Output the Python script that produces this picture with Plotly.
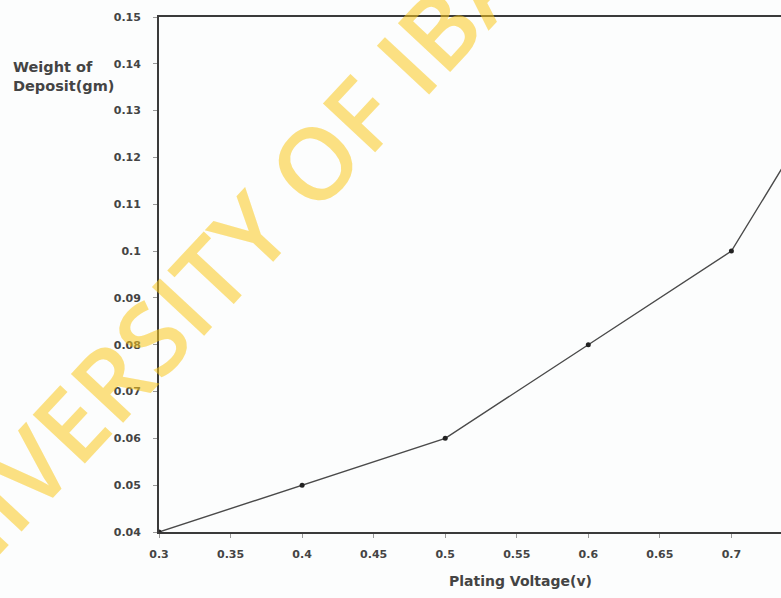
import plotly.graph_objects as go

voltage = [0.3, 0.4, 0.5, 0.6, 0.7, 0.8]
weight = [0.04, 0.05, 0.06, 0.08, 0.10, 0.15]

x_ticks = [0.3, 0.35, 0.4, 0.45, 0.5, 0.55, 0.6, 0.65, 0.7, 0.75]
x_tick_labels = ["0.3", "0.35", "0.4", "0.45", "0.5", "0.55", "0.6", "0.65", "0.7", "0.75"]
y_ticks = [0.04, 0.05, 0.06, 0.07, 0.08, 0.09, 0.10, 0.11, 0.12, 0.13, 0.14, 0.15]
y_tick_labels = ["0.04", "0.05", "0.06", "0.07", "0.08", "0.09", "0.1", "0.11", "0.12", "0.13", "0.14", "0.15"]

W, H = 781, 598
L, R, T, B = 159, 0, 17, 66
pw = W - L - R
ph = H - T - B

def px_to_paper(px, py):
    return (px - L) / pw, 1 - (py - T) / ph

fig = go.Figure()
fig.add_trace(go.Scatter(
    x=voltage, y=weight, mode="lines+markers",
    line=dict(color="#4a4a4a", width=1.4),
    marker=dict(color="#222222", size=5),
    cliponaxis=True, showlegend=False,
))

font_main = "DejaVu Sans, sans-serif"
axis_col = "#3a3a3a"
tick_font = dict(family=font_main, size=11, color="#444", weight="bold")

fig.update_xaxes(
    range=[0.3, 0.3 + 0.1 * pw / 143.1],
    tickvals=x_ticks, ticktext=x_tick_labels,
    showline=True, linecolor=axis_col, linewidth=1.8, mirror=True,
    ticks="outside", ticklen=4, tickcolor="#999", tickwidth=1,
    ticklabelstandoff=7,
    showgrid=False, zeroline=False,
    tickfont=tick_font,
)
fig.update_yaxes(
    range=[0.04, 0.15],
    tickvals=y_ticks, ticktext=y_tick_labels,
    showline=True, linecolor=axis_col, linewidth=1.8, mirror=False,
    ticks="outside", ticklen=4, tickcolor="#999", tickwidth=1,
    ticklabelstandoff=10,
    showgrid=False, zeroline=False,
    tickfont=tick_font,
)

ax, ay = px_to_paper(520, 581)
fig.add_annotation(xref="paper", yref="paper", x=ax, y=ay, text="<b>Plating Voltage(v)</b>",
                   showarrow=False, font=dict(family=font_main, size=14, color="#444"),
                   xanchor="center", yanchor="middle")
tx, ty = px_to_paper(11, 77)
fig.add_annotation(xref="paper", yref="paper", x=tx, y=ty, text="<b>Weight of<br>Deposit(gm)</b>",
                   showarrow=False, align="left", font=dict(family=font_main, size=14.5, color="#444"),
                   xanchor="left", yanchor="middle")

wx, wy = px_to_paper(268, 210)
fig.add_annotation(xref="paper", yref="paper", x=wx, y=wy, text="UNIVERSITY OF IBADAN",
                   showarrow=False, textangle=-47,
                   font=dict(family="Open Sans, sans-serif", size=100, weight=600,
                             color="rgba(250,200,30,0.55)"),
                   xanchor="center", yanchor="middle")

fig.update_layout(
    width=W, height=H,
    margin=dict(l=L, r=R, t=T, b=B),
    paper_bgcolor="#fcfdfd", plot_bgcolor="#fcfdfd",
)

fig.write_html(
    "out.html",
    config={"displayModeBar": False},
    post_script="document.body.style.margin='0';"
                "document.body.style.overflow='hidden';"
                "document.documentElement.style.overflow='hidden';",
)
